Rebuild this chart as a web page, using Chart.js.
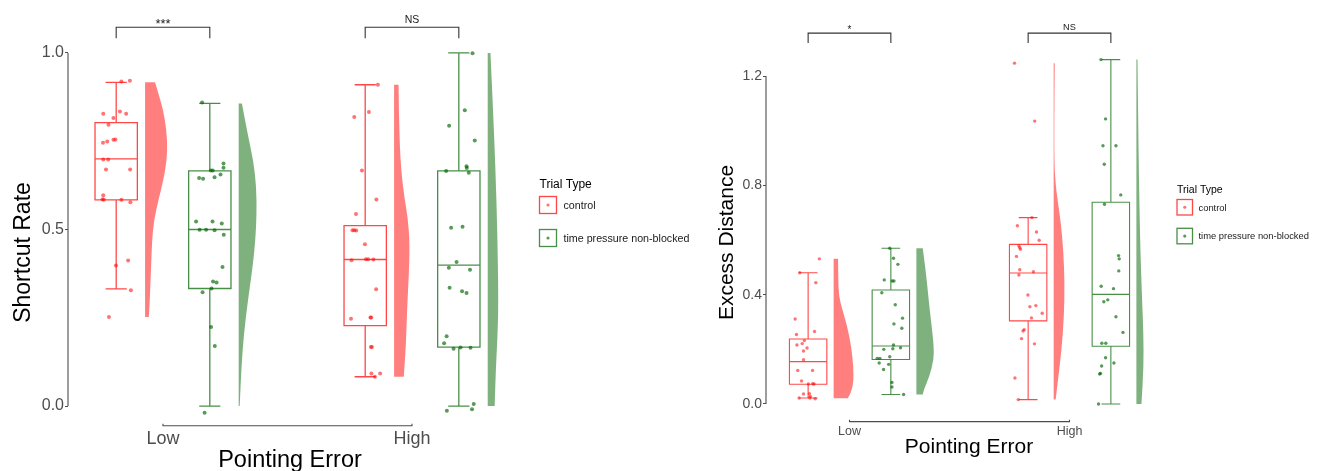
<!DOCTYPE html>
<html>
<head>
<meta charset="utf-8">
<script src="https://cdn.jsdelivr.net/npm/chart.js@4.4.1/dist/chart.umd.min.js"></script>
<style>
  body { margin: 0; background: #fff; width: 1323px; height: 471px; overflow: hidden; position: relative; }
  canvas { position: absolute; top: 0; }
</style>
</head>
<body>
<canvas id="shortcut" width="700" height="471" style="left:0"></canvas>
<canvas id="excess" width="623" height="471" style="left:700px"></canvas>
<script>
const pointingError = ['Low', 'High'];
const trialTypes = ['control', 'time pressure non-blocked'];

// Shortcut Rate, one value per participant + horizontal jitter (category units)
const srLowControl = [0.919, 0.921, 0.828, 0.834, 0.828, 0.816, 0.797, 0.746, 0.749, 0.754, 0.755, 0.698, 0.698, 0.670, 0.670, 0.597, 0.586, 0.584, 0.584, 0.577, 0.398, 0.412, 0.328, 0.252];
const srLowControlJit = [0.021, 0.055, -0.052, 0.015, 0.040, -0.011, -0.031, -0.053, -0.036, -0.011, -0.003, -0.052, -0.032, -0.041, 0.056, -0.052, -0.055, -0.050, 0.021, 0.057, -0.001, 0.048, 0.059, -0.029];
const srLowTP = [0.860, 0.687, 0.675, 0.667, 0.667, 0.656, 0.646, 0.644, 0.648, 0.523, 0.523, 0.517, 0.499, 0.499, 0.498, 0.485, 0.394, 0.353, 0.350, 0.333, 0.322, 0.224, 0.170, -0.019];
const srLowTPJit = [-0.031, 0.055, 0.055, 0.004, 0.012, 0.043, -0.043, -0.027, 0.019, -0.055, 0.011, 0.048, -0.041, -0.015, 0.019, 0.056, 0.051, 0.013, 0.027, 0.007, -0.029, 0.005, 0.020, -0.021];
const srHighControl = [0.910, 0.833, 0.819, 0.667, 0.585, 0.544, 0.498, 0.498, 0.497, 0.458, 0.413, 0.416, 0.416, 0.415, 0.331, 0.247, 0.251, 0.251, 0.167, 0.167, 0.092, 0.092, 0.083];
const srHighControlJit = [0.051, 0.015, -0.044, -0.013, 0.045, -0.037, -0.051, -0.044, -0.036, -0.001, -0.055, 0.003, 0.012, 0.033, 0.044, -0.057, 0.021, 0.024, 0.023, 0.027, 0.025, 0.060, 0.039];
const srHighTP = [0.999, 0.838, 0.794, 0.752, 0.679, 0.674, 0.666, 0.661, 0.505, 0.508, 0.408, 0.392, 0.386, 0.335, 0.325, 0.320, 0.198, 0.178, 0.162, 0.166, 0.165, 0.006, -0.013, -0.009];
const srHighTPJit = [0.055, 0.024, -0.039, 0.064, 0.031, 0.032, -0.051, 0.040, -0.031, 0.015, -0.009, -0.040, 0.045, -0.037, 0.013, 0.031, -0.049, -0.059, -0.021, 0.007, 0.047, 0.060, -0.048, 0.053];

// box stats: [lower whisker, Q1, median, Q3, upper whisker]
const srBoxLowControl = [0.332, 0.584, 0.700, 0.803, 0.917];
const srBoxLowTP = [0.0, 0.333, 0.500, 0.666, 0.857];
const srBoxHighControl = [0.083, 0.228, 0.415, 0.511, 0.910];
const srBoxHighTP = [0.0, 0.167, 0.399, 0.666, 1.0];

// half violins: [value, density width in category units], top to bottom
const srViolinLowControl = [[0.917, 0.040], [0.864, 0.063], [0.817, 0.079], [0.751, 0.090], [0.695, 0.087], [0.638, 0.073], [0.582, 0.053], [0.525, 0.036], [0.478, 0.029], [0.394, 0.024], [0.299, 0.019], [0.252, 0.015]];
const srViolinLowTP = [[0.857, 0.013], [0.770, 0.036], [0.695, 0.059], [0.619, 0.071], [0.544, 0.072], [0.469, 0.067], [0.394, 0.056], [0.299, 0.037], [0.205, 0.021], [0.111, 0.011], [0.0, 0.004]];
const srViolinHighControl = [[0.910, 0.018], [0.836, 0.019], [0.695, 0.025], [0.601, 0.039], [0.535, 0.055], [0.460, 0.063], [0.365, 0.059], [0.271, 0.052], [0.177, 0.048], [0.083, 0.039]];
const srViolinHighTP = [[1.0, 0.011], [0.864, 0.020], [0.676, 0.031], [0.488, 0.039], [0.299, 0.043], [0.205, 0.040], [0.111, 0.033], [0.0, 0.028]];
const srSignif = ['***', 'NS'];
const srTicks = [0, 0.5, 1.0];

// Excess Distance
const edLowControl = [0.531, 0.480, 0.444, 0.311, 0.265, 0.254, 0.232, 0.221, 0.205, 0.216, 0.194, 0.162, 0.123, 0.123, 0.084, 0.073, 0.074, 0.073, 0.037, 0.038, 0.028, 0.022, 0.019, 0.022];
const edLowControlJit = [0.051, -0.038, 0.035, -0.059, 0.029, -0.053, -0.017, -0.027, -0.005, -0.051, -0.021, -0.021, -0.047, 0.020, -0.030, 0.001, 0.021, 0.027, -0.021, 0.006, 0.010, -0.041, 0.032, 0.008];
const edLowTP = [0.570, 0.533, 0.511, 0.454, 0.450, 0.450, 0.407, 0.363, 0.314, 0.293, 0.277, 0.216, 0.200, 0.202, 0.206, 0.167, 0.167, 0.173, 0.150, 0.126, 0.145, 0.079, 0.062, 0.035];
const edLowTPJit = [-0.005, 0.012, 0.032, -0.030, 0.006, 0.014, -0.041, 0.020, 0.053, 0.014, 0.050, 0.012, -0.032, 0.009, 0.044, -0.062, -0.050, -0.005, -0.053, -0.033, -0.010, 0.005, 0.005, 0.058];
const edHighControl = [1.247, 1.035, 0.682, 0.652, 0.629, 0.599, 0.578, 0.572, 0.566, 0.540, 0.491, 0.484, 0.472, 0.399, 0.356, 0.360, 0.332, 0.315, 0.272, 0.267, 0.239, 0.220, 0.095, 0.016];
const edHighControlJit = [-0.062, 0.030, 0.017, -0.049, 0.038, 0.050, -0.042, -0.038, -0.035, -0.053, -0.038, 0.024, -0.042, -0.001, 0.008, 0.035, 0.064, 0.015, -0.018, -0.023, -0.030, 0.029, -0.060, -0.045];
const edHighTP = [1.260, 1.043, 0.945, 0.945, 0.877, 0.765, 0.731, 0.543, 0.531, 0.487, 0.431, 0.422, 0.374, 0.381, 0.319, 0.262, 0.222, 0.222, 0.169, 0.150, 0.139, 0.112, 0.110, 0.000];
const edHighTPJit = [-0.045, -0.024, -0.036, 0.023, -0.030, 0.045, -0.029, 0.035, 0.038, 0.036, -0.044, 0.012, -0.032, -0.014, 0.023, 0.055, -0.041, -0.023, -0.024, 0.014, -0.042, -0.047, -0.051, -0.056];

const edBoxLowControl = [0.022, 0.072, 0.155, 0.238, 0.480];
const edBoxLowTP = [0.035, 0.163, 0.212, 0.417, 0.570];
const edBoxHighControl = [0.016, 0.304, 0.479, 0.584, 0.682];
const edBoxHighTP = [0.0, 0.211, 0.401, 0.738, 1.260];

const edViolinLowControl = [[0.531, 0.020], [0.454, 0.021], [0.393, 0.024], [0.344, 0.040], [0.283, 0.062], [0.210, 0.080], [0.136, 0.090], [0.076, 0.090], [0.039, 0.077], [0.021, 0.064]];
const edViolinLowTP = [[0.570, 0.029], [0.527, 0.036], [0.454, 0.047], [0.356, 0.059], [0.283, 0.070], [0.210, 0.079], [0.161, 0.079], [0.100, 0.059], [0.057, 0.036], [0.035, 0.029]];
const edViolinHighControl = [[1.247, 0.005], [1.051, 0.003], [0.893, 0.003], [0.808, 0.008], [0.746, 0.018], [0.661, 0.033], [0.563, 0.044], [0.442, 0.050], [0.319, 0.047], [0.198, 0.036], [0.076, 0.018], [0.016, 0.009]];
const edViolinHighTP = [[1.260, 0.005], [1.051, 0.008], [0.808, 0.012], [0.563, 0.018], [0.381, 0.026], [0.259, 0.032], [0.136, 0.033], [0.0, 0.023]];
const edSignif = ['*', 'NS'];
const edTicks = [0, 0.4, 0.8, 1.2];

const FONT = "'Liberation Sans', Arial, sans-serif";
Chart.defaults.font.family = FONT;

const pointColors = ['rgba(255,0,0,0.55)', 'rgba(0,100,0,0.65)'];
const boxColors = ['rgba(255,0,0,0.72)', 'rgba(0,100,0,0.72)'];
const violinColors = ['rgba(255,0,0,0.5)', 'rgba(0,100,0,0.5)'];
const groupOffset = [-0.188, 0.188];
const boxHalf = 0.085, capHalf = 0.0425, violinGap = 0.116;

// boxes and half violins, drawn under the points
const raincloud = {
  id: 'raincloud',
  beforeDatasetsDraw(chart, args, opts) {
    const { ctx, scales: { x, y } } = chart;
    ctx.save();
    opts.groups.forEach(g => {
      const c = g.cat + 1 + groupOffset[g.type];
      const x0 = x.getPixelForValue(c + violinGap);
      const pts = g.violin.map(([v, w]) => [x.getPixelForValue(c + violinGap + w), y.getPixelForValue(v)]);
      ctx.beginPath();
      ctx.moveTo(x0, pts[0][1]);
      ctx.lineTo(pts[0][0], pts[0][1]);
      for (let i = 1; i < pts.length - 1; i++) {
        ctx.quadraticCurveTo(pts[i][0], pts[i][1], (pts[i][0] + pts[i + 1][0]) / 2, (pts[i][1] + pts[i + 1][1]) / 2);
      }
      const last = pts[pts.length - 1];
      ctx.lineTo(last[0], last[1]);
      ctx.lineTo(x0, last[1]);
      ctx.closePath();
      ctx.fillStyle = violinColors[g.type];
      ctx.fill();

      const [lo, q1, med, q3, hi] = g.box.map(v => y.getPixelForValue(v));
      const xl = x.getPixelForValue(c - boxHalf), xr = x.getPixelForValue(c + boxHalf), xm = x.getPixelForValue(c);
      const cl = x.getPixelForValue(c - capHalf), cr = x.getPixelForValue(c + capHalf);
      ctx.strokeStyle = boxColors[g.type];
      ctx.lineWidth = opts.lineWidth;
      ctx.beginPath();
      ctx.rect(xl, q3, xr - xl, q1 - q3);
      ctx.moveTo(xl, med); ctx.lineTo(xr, med);
      ctx.moveTo(xm, q3); ctx.lineTo(xm, hi);
      ctx.moveTo(xm, q1); ctx.lineTo(xm, lo);
      ctx.moveTo(cl, hi); ctx.lineTo(cr, hi);
      ctx.moveTo(cl, lo); ctx.lineTo(cr, lo);
      ctx.stroke();
    });
    ctx.restore();
  }
};

// truncated axis lines, significance brackets, titles and legend
const decor = {
  id: 'decor',
  afterDraw(chart, args, o) {
    const { ctx, chartArea, scales: { x, y } } = chart;
    ctx.save();
    ctx.strokeStyle = '#4d4d4d';
    ctx.lineWidth = 1.1;
    ctx.beginPath();
    ctx.moveTo(chartArea.left, y.getPixelForValue(0));
    ctx.lineTo(chartArea.left, y.getPixelForValue(o.ticks[o.ticks.length - 1]));
    const ay = chartArea.bottom - 1.5;
    ctx.moveTo(x.getPixelForValue(1), ay - 2);
    ctx.lineTo(x.getPixelForValue(1), ay);
    ctx.lineTo(x.getPixelForValue(2), ay);
    ctx.lineTo(x.getPixelForValue(2), ay - 2);
    ctx.stroke();

    ctx.strokeStyle = '#333';
    ctx.fillStyle = '#1a1a1a';
    ctx.textAlign = 'center';
    o.signif.forEach((s, i) => {
      const a = x.getPixelForValue(i + 1 + groupOffset[0]);
      const b = x.getPixelForValue(i + 1 + groupOffset[1]);
      const top = y.getPixelForValue(o.bracket[0]), leg = y.getPixelForValue(o.bracket[1]);
      ctx.beginPath();
      ctx.moveTo(a, leg); ctx.lineTo(a, top); ctx.lineTo(b, top); ctx.lineTo(b, leg);
      ctx.stroke();
      const star = s.indexOf('*') >= 0;
      ctx.font = (star ? o.starSize : o.nsSize) + 'px ' + FONT;
      ctx.fillText(s, (a + b) / 2, top + (star ? o.starDy : o.nsDy));
    });

    ctx.fillStyle = '#000';
    ctx.font = o.xTitle.size + 'px ' + FONT;
    ctx.fillText(o.xTitle.text, o.xTitle.x, o.xTitle.y);
    ctx.save();
    ctx.translate(o.yTitle.x, o.yTitle.y);
    ctx.rotate(-Math.PI / 2);
    ctx.font = o.yTitle.size + 'px ' + FONT;
    ctx.fillText(o.yTitle.text, 0, 0);
    ctx.restore();

    const L = o.legend;
    ctx.textAlign = 'left';
    ctx.fillStyle = '#000';
    ctx.font = L.titleSize + 'px ' + FONT;
    ctx.fillText('Trial Type', L.x, L.titleY);
    ctx.font = L.size + 'px ' + FONT;
    trialTypes.forEach((t, i) => {
      const ky = L.keyY[i];
      ctx.strokeStyle = boxColors[i];
      ctx.lineWidth = 1.3;
      ctx.strokeRect(L.x, ky, L.key, L.key);
      ctx.fillStyle = pointColors[i];
      ctx.beginPath();
      ctx.arc(L.x + L.key / 2, ky + L.key / 2, 1.6, 0, Math.PI * 2);
      ctx.fill();
      ctx.fillStyle = '#1a1a1a';
      ctx.fillText(t, L.x + L.key + L.gap, ky + L.key / 2 + L.size * 0.36);
    });
    ctx.restore();
  }
};

function makePanel(id, p) {
  const datasets = trialTypes.map((t, ti) => ({
    label: t,
    data: p.groups.filter(g => g.type === ti).flatMap(g =>
      g.values.map((v, i) => ({ x: g.cat + 1 + groupOffset[ti] + g.jitter[i], y: v }))),
    backgroundColor: pointColors[ti],
    borderWidth: 0,
    pointRadius: p.pointRadius,
    pointHoverRadius: p.pointRadius
  }));
  return new Chart(document.getElementById(id), {
    type: 'scatter',
    data: { datasets },
    plugins: [raincloud, decor],
    options: {
      responsive: false,
      animation: false,
      layout: { padding: { top: p.top, right: p.right, left: 0, bottom: 0 } },
      plugins: {
        legend: { display: false },
        tooltip: { enabled: false },
        raincloud: { groups: p.groups, lineWidth: p.lineWidth },
        decor: p.decor
      },
      scales: {
        x: {
          type: 'linear', min: p.xMin, max: p.xMax,
          afterBuildTicks: s => { s.ticks = [{ value: 1 }, { value: 2 }]; },
          afterFit: s => { s.height = p.xHeight; },
          ticks: { callback: v => pointingError[v - 1], color: '#4d4d4d', font: { size: p.xTickSize }, padding: p.xTickPad, maxRotation: 0 },
          grid: { display: false, drawTicks: false },
          border: { display: false }
        },
        y: {
          min: p.yMin, max: p.yMax,
          afterBuildTicks: s => { s.ticks = p.decor.ticks.map(v => ({ value: v })); },
          afterFit: s => { s.width = p.yWidth; },
          ticks: { callback: v => v.toFixed(1), color: '#4d4d4d', font: { size: p.yTickSize }, padding: 1 },
          grid: { drawOnChartArea: false, drawTicks: true, tickLength: 3, color: '#4d4d4d' },
          border: { display: false }
        }
      }
    }
  });
}

makePanel('shortcut', {
  groups: [
    { cat: 0, type: 0, values: srLowControl, jitter: srLowControlJit, box: srBoxLowControl, violin: srViolinLowControl },
    { cat: 0, type: 1, values: srLowTP, jitter: srLowTPJit, box: srBoxLowTP, violin: srViolinLowTP },
    { cat: 1, type: 0, values: srHighControl, jitter: srHighControlJit, box: srBoxHighControl, violin: srViolinHighControl },
    { cat: 1, type: 1, values: srHighTP, jitter: srHighTPJit, box: srBoxHighTP, violin: srViolinHighTP }
  ],
  pointRadius: 2, lineWidth: 1.3,
  top: 9.5, right: 180, xHeight: 43.76, yWidth: 68,
  xMin: 0.6185, xMax: 2.4337, yMin: -0.06, yMax: 1.12,
  xTickSize: 18, xTickPad: 1, yTickSize: 16,
  decor: {
    ticks: srTicks, signif: srSignif, bracket: [1.073, 1.042],
    starSize: 13, nsSize: 10.5, starDy: 1, nsDy: -4,
    xTitle: { text: 'Pointing Error', size: 23.5, x: 290, y: 467 },
    yTitle: { text: 'Shortcut Rate', size: 23, x: 30, y: 252.5 },
    legend: { x: 539.5, titleY: 187.5, titleSize: 12, size: 10.7, key: 17, gap: 7, keyY: [196.5, 229.5] }
  }
});

makePanel('excess', {
  groups: [
    { cat: 0, type: 0, values: edLowControl, jitter: edLowControlJit, box: edBoxLowControl, violin: edViolinLowControl },
    { cat: 0, type: 1, values: edLowTP, jitter: edLowTPJit, box: edBoxLowTP, violin: edViolinLowTP },
    { cat: 1, type: 0, values: edHighControl, jitter: edHighControlJit, box: edBoxHighControl, violin: edViolinHighControl },
    { cat: 1, type: 1, values: edHighTP, jitter: edHighTPJit, box: edBoxHighTP, violin: edViolinHighTP }
  ],
  pointRadius: 1.7, lineWidth: 1.1,
  top: 15.87, right: 153, xHeight: 47.87, yWidth: 66,
  xMin: 0.6205, xMax: 2.4568, yMin: -0.07, yMax: 1.42,
  xTickSize: 12.5, xTickPad: 1, yTickSize: 14,
  decor: {
    ticks: edTicks, signif: edSignif, bracket: [1.357, 1.321],
    starSize: 10, nsSize: 9.2, starDy: 0, nsDy: -3.5,
    xTitle: { text: 'Pointing Error', size: 21, x: 269, y: 453.3 },
    yTitle: { text: 'Excess Distance', size: 21, x: 32.7, y: 242.5 },
    legend: { x: 477, titleY: 192.5, titleSize: 10.5, size: 9.4, key: 15.5, gap: 6, keyY: [199.5, 228.3] }
  }
});
</script>
</body>
</html>
